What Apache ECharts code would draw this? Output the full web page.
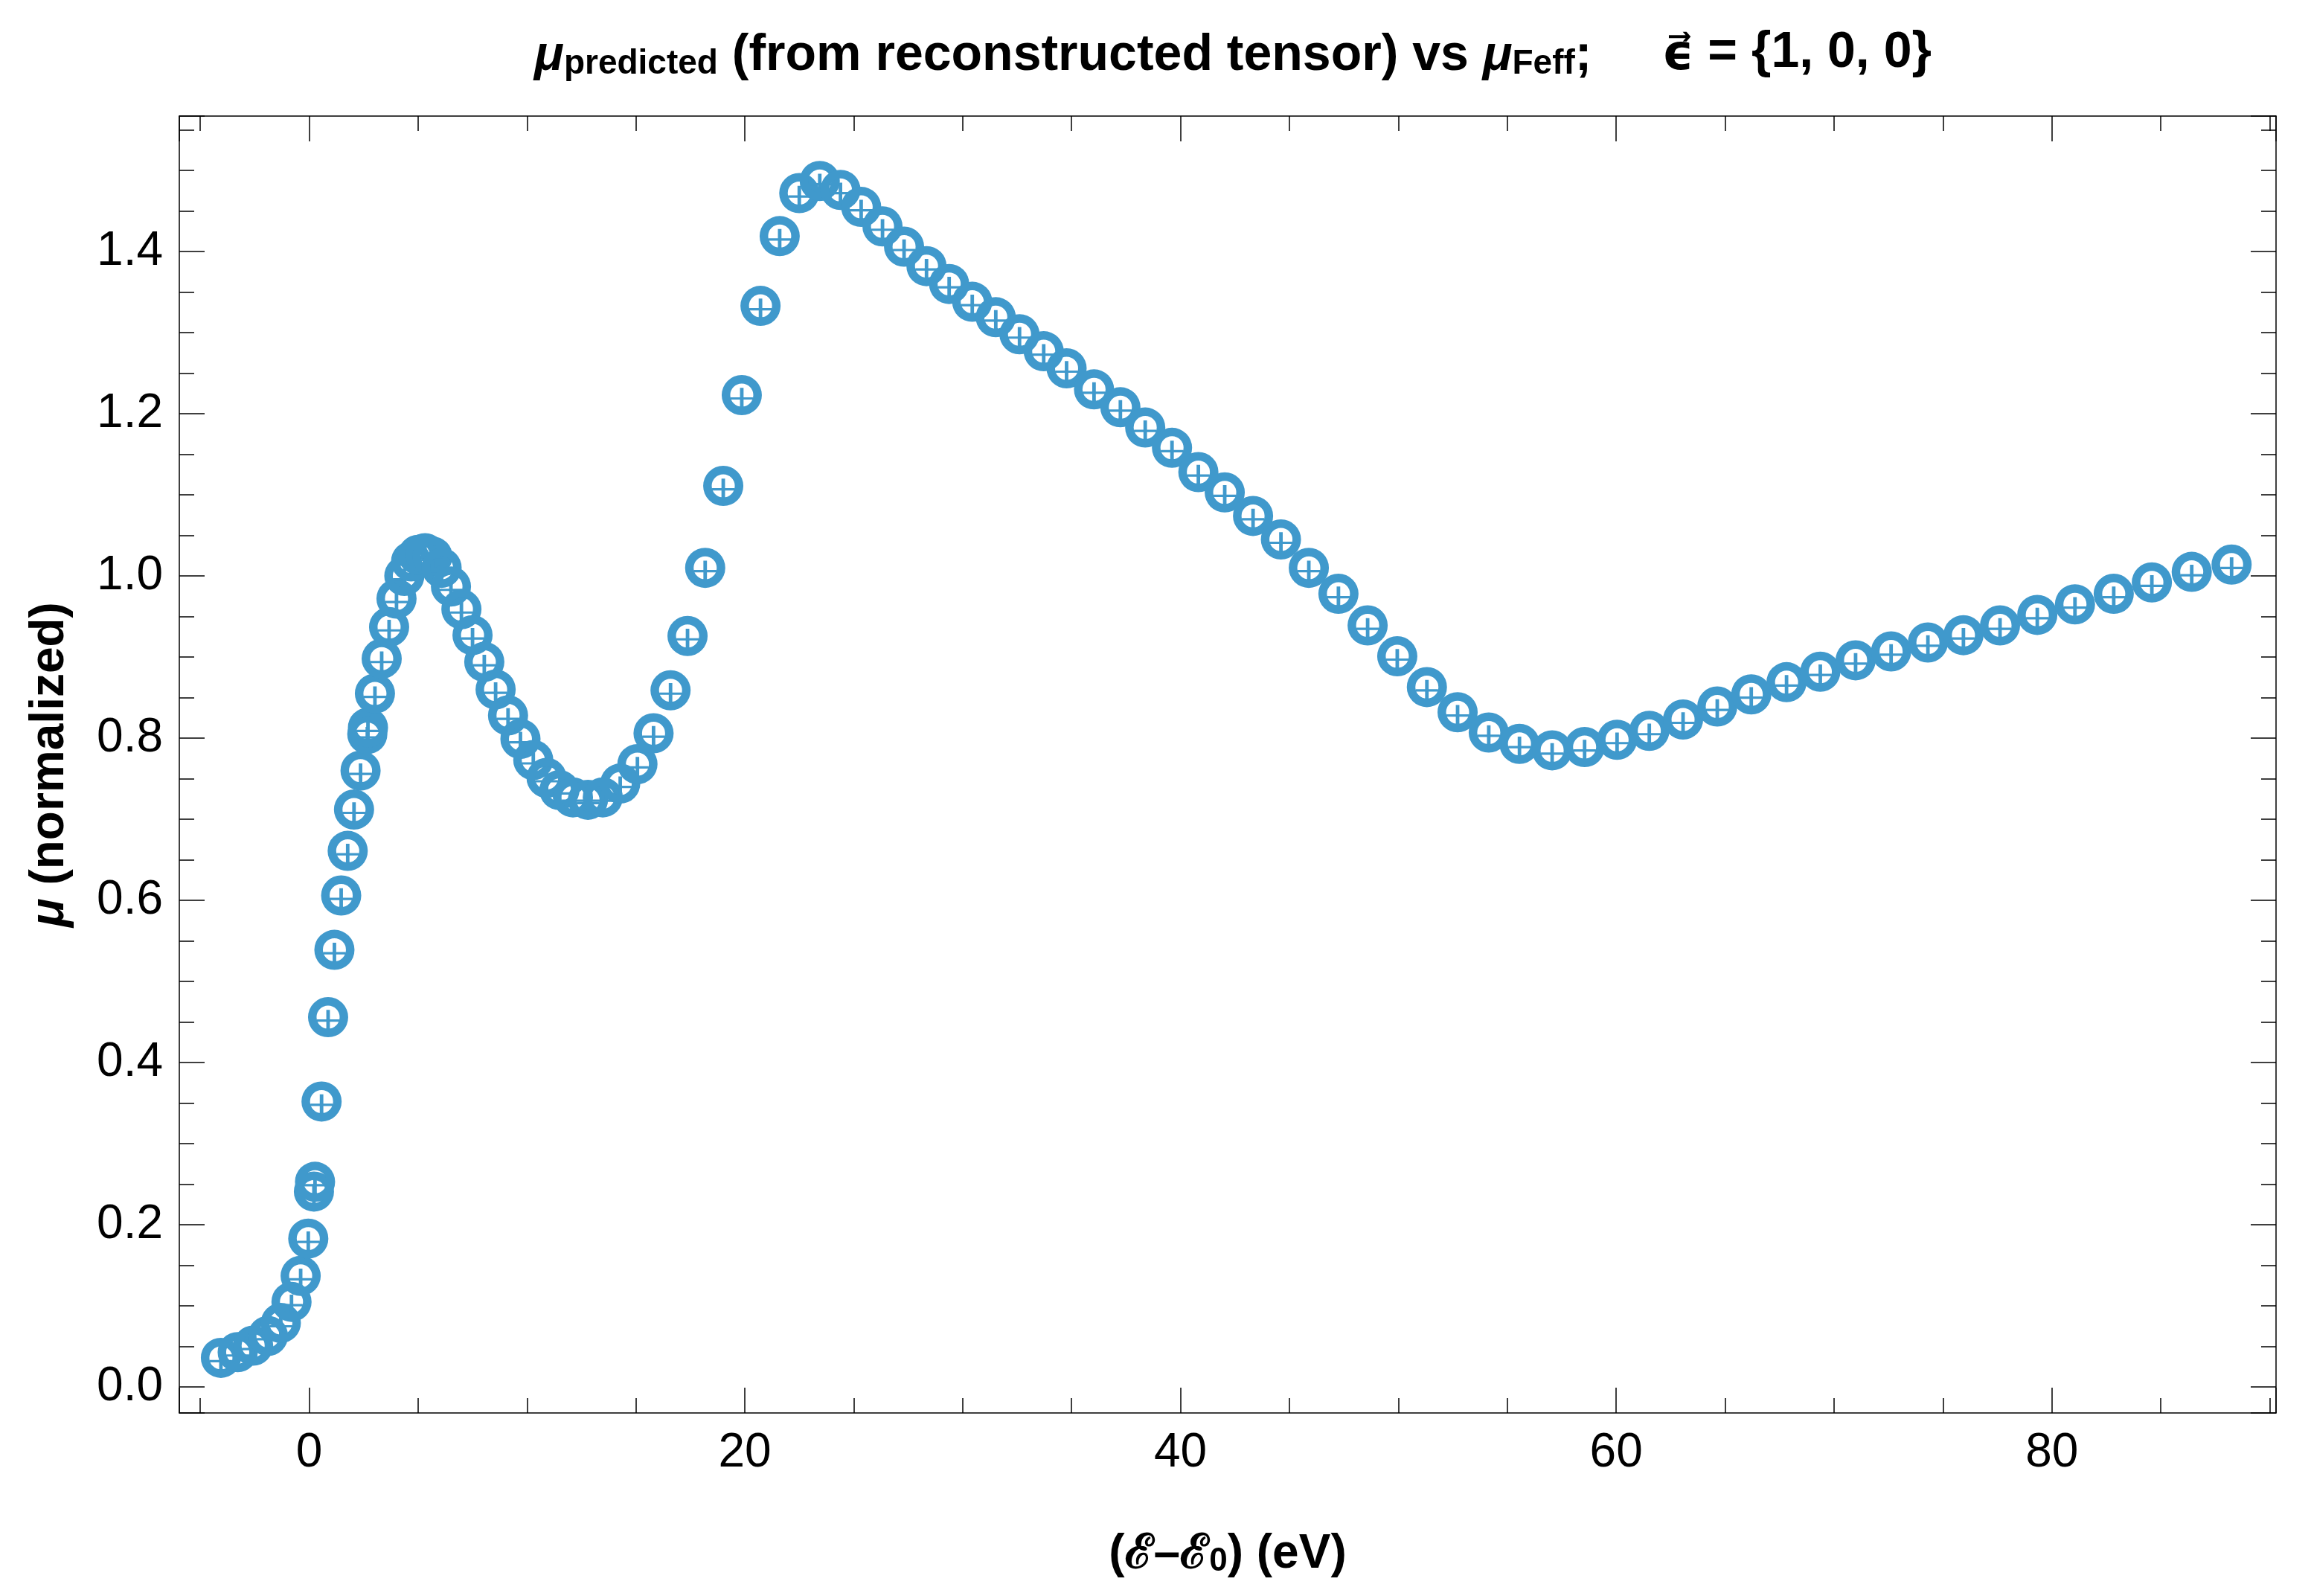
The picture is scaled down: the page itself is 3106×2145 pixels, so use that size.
<!DOCTYPE html>
<html>
<head>
<meta charset="utf-8">
<script src="https://cdn.jsdelivr.net/npm/echarts@6/dist/echarts.min.js"></script>
<style>
  html, body { margin: 0; padding: 0; background: #fff; }
  #chart { width: 3106px; height: 2145px; }
</style>
</head>
<body>
<div id="chart"></div>
<script>
// energy relative to edge (eV)
const energy = [-4.05, -3.28, -2.57, -1.89, -1.30, -0.81, -0.39, -0.04, 0.22, 0.27,
  0.57, 0.87, 1.16, 1.47, 1.77, 2.06, 2.36, 2.67, 2.70, 3.02,
  3.33, 3.67, 4.01, 4.37, 4.68, 5.00, 5.32, 5.66, 6.08, 6.51,
  6.99, 7.50, 8.04, 8.56, 9.13, 9.70, 10.29, 10.90, 11.49, 12.11,
  12.80, 13.48, 14.28, 15.07, 15.81, 16.59, 17.37, 18.18, 19.01, 19.86,
  20.72, 21.60, 22.50, 23.44, 24.39, 25.34, 26.32, 27.31, 28.34, 29.38,
  30.44, 31.52, 32.61, 33.72, 34.77, 36.03, 37.24, 38.38, 39.61, 40.82,
  42.03, 43.33, 44.61, 45.89, 47.25, 48.59, 49.95, 51.31, 52.72, 54.15,
  55.56, 57.06, 58.55, 60.04, 61.52, 63.07, 64.64, 66.20, 67.82, 69.37,
  70.99, 72.62, 74.31, 75.94, 77.62, 79.33, 81.06, 82.84, 84.59, 86.42, 88.25];

// normalized mu
const mu = [0.036, 0.043, 0.051, 0.063, 0.079, 0.105, 0.137, 0.183, 0.241, 0.253,
  0.352, 0.456, 0.539, 0.606, 0.661, 0.712, 0.760, 0.805, 0.813, 0.855,
  0.898, 0.937, 0.972, 1.000, 1.018, 1.026, 1.028, 1.024, 1.010, 0.987,
  0.959, 0.927, 0.894, 0.860, 0.828, 0.799, 0.773, 0.751, 0.736, 0.727,
  0.724, 0.727, 0.744, 0.768, 0.806, 0.859, 0.926, 1.010, 1.111, 1.223,
  1.333, 1.419, 1.472, 1.487, 1.476, 1.455, 1.431, 1.406, 1.382, 1.360,
  1.338, 1.319, 1.298, 1.277, 1.256, 1.230, 1.208, 1.183, 1.158, 1.128,
  1.103, 1.074, 1.045, 1.010, 0.978, 0.939, 0.901, 0.863, 0.832, 0.807,
  0.793, 0.785, 0.789, 0.798, 0.809, 0.823, 0.839, 0.854, 0.869, 0.882,
  0.896, 0.907, 0.918, 0.927, 0.939, 0.952, 0.965, 0.978, 0.992, 1.005, 1.014];

const xRange = [-5.96, 90.29];
const yRange = [-0.032, 1.567];

const color = '#4099cc';
const font = 'Liberation Sans, Arial, sans-serif';

// ring with a plus inside (circle-plus marker)
const markerPath = 'path://M0,-27A27,27,0,1,1,0,27A27,27,0,1,1,0,-27Z' +
  'M0,-15.5A15.5,15.5,0,1,0,0,15.5A15.5,15.5,0,1,0,0,-15.5Z' +
  'M-2.4,-9.7L2.4,-9.7L2.4,16L-2.4,16Z' +
  'M-15,2.9L15,2.9L15,6.1L-15,6.1Z';

const points = energy.map((e, i) => [e, mu[i]]);

const frameLine = { show: true, onZero: false, lineStyle: { color: '#000', width: 1.5 } };
const tickStyle = { color: '#000', width: 1.5 };

function xAxisDef(pos, labels) {
  return {
    type: 'value', position: pos, min: xRange[0], max: xRange[1], splitNumber: 5,
    axisLine: frameLine,
    axisTick: { show: true, inside: true, length: 34, lineStyle: tickStyle },
    minorTick: { show: true, splitNumber: 4, length: 20, lineStyle: tickStyle },
    splitLine: { show: false },
    axisLabel: { show: labels, margin: 22, fontSize: 64, color: '#000', fontFamily: font,
      showMinLabel: false, showMaxLabel: false },
  };
}

function yAxisDef(pos, labels) {
  return {
    type: 'value', position: pos, min: yRange[0], max: yRange[1], splitNumber: 8,
    axisLine: frameLine,
    axisTick: { show: true, inside: true, length: 34, lineStyle: tickStyle },
    minorTick: { show: true, splitNumber: 4, length: 20, lineStyle: tickStyle },
    splitLine: { show: false },
    axisLabel: { show: labels, margin: 22, fontSize: 64, color: '#000', fontFamily: font,
      showMinLabel: false, showMaxLabel: false, formatter: v => v.toFixed(1) },
  };
}

const chart = echarts.init(document.getElementById('chart'), null, { renderer: 'canvas' });

const xBottom = xAxisDef('bottom', true);
xBottom.name = '{n|(ℰ–ℰ}{s|0}{n|) (eV)}';
xBottom.nameLocation = 'middle';
xBottom.nameGap = 150;
xBottom.nameTextStyle = {
  rich: {
    n: { fontSize: 64, fontWeight: 'bold', fontFamily: font, color: '#000', verticalAlign: 'bottom', lineHeight: 72 },
    s: { fontSize: 44, fontWeight: 'bold', fontFamily: font, color: '#000', verticalAlign: 'bottom', lineHeight: 60 }
  }
};

const yLeft = yAxisDef('left', true);
yLeft.name = '{i|μ}{n| (normalized)}';
yLeft.nameLocation = 'middle';
yLeft.nameGap = 142;
yLeft.nameTextStyle = {
  rich: {
    i: { fontSize: 64, fontWeight: 'bold', fontStyle: 'italic', fontFamily: font, color: '#000' },
    n: { fontSize: 64, fontWeight: 'bold', fontFamily: font, color: '#000' }
  }
};

const option = {
  backgroundColor: '#fff',
  animation: false,
  title: {
    text: '{m|μ}{s|predicted}{n| (from reconstructed tensor) vs }{m|μ}{s|Feff}{n|;     }{e|ϵ⃗} = {1, 0, 0}',
    left: 1652,
    textAlign: 'center',
    top: 28,
    textStyle: {
      fontSize: 68, fontWeight: 'bold', fontFamily: font, color: '#000', verticalAlign: 'bottom', lineHeight: 76,
      rich: {
        m: { fontSize: 66, fontWeight: 'bold', fontStyle: 'italic', fontFamily: font, color: '#000', verticalAlign: 'bottom', lineHeight: 76 },
        n: { fontSize: 68, fontWeight: 'bold', fontFamily: font, color: '#000', verticalAlign: 'bottom', lineHeight: 76 },
        s: { fontSize: 46, fontWeight: 'bold', fontFamily: font, color: '#000', verticalAlign: 'bottom', lineHeight: 60 },
        e: { fontSize: 66, fontWeight: 'bold', fontFamily: 'DejaVu Sans', color: '#000', verticalAlign: 'bottom', lineHeight: 76 }
      }
    }
  },
  grid: { left: 241, right: 47, top: 156, bottom: 246, containLabel: false },
  xAxis: [xBottom, xAxisDef('top', false)],
  yAxis: [yLeft, yAxisDef('right', false)],
  series: [{
    type: 'scatter',
    data: points,
    symbol: markerPath,
    symbolSize: 54,
    itemStyle: { color: color, opacity: 1 },
    emphasis: { disabled: true }
  }]
};

chart.setOption(option);
</script>
</body>
</html>
